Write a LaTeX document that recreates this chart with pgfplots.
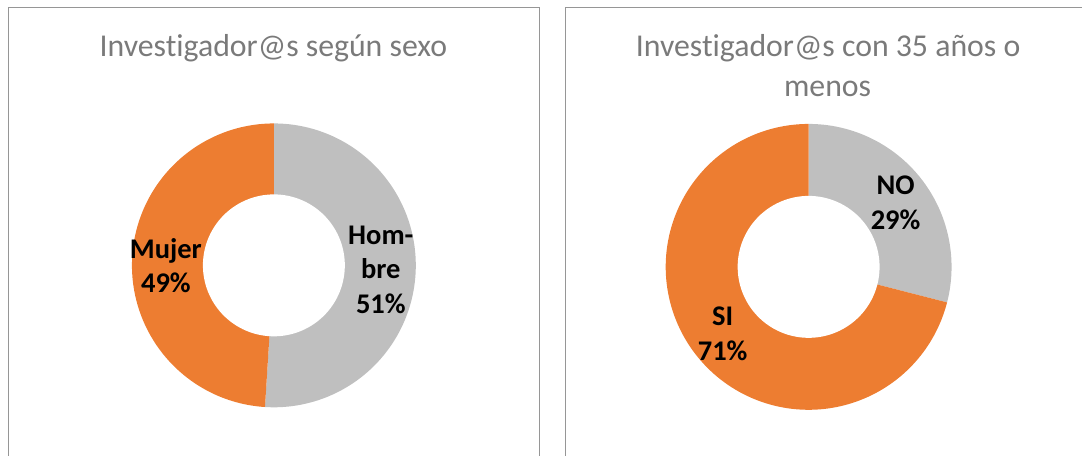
\documentclass[border=0pt]{standalone}
\usepackage{pgfplots}
\pgfplotsset{compat=1.18}
\usepackage{pgfplotstable}
\usepackage{fontspec}
\setmainfont{Carlito}[Ligatures={NoCommon}]
\definecolor{corange}{HTML}{ED7D31}
\definecolor{cgray}{HTML}{BFBFBF}
\definecolor{ctitle}{HTML}{7A7A7A}
\definecolor{cborder}{HTML}{969696}

\pgfplotstableread{
label value
Hombre 51
Mujer 49
}\sexo
\pgfplotstableread{
label value
NO 29
SI 71
}\edad
\pgfplotstablegetelem{0}{value}\of\sexo \let\vHombre\pgfplotsretval
\pgfplotstablegetelem{0}{value}\of\edad \let\vNO\pgfplotsretval

\begin{document}
\begin{tikzpicture}
\begin{axis}[
  width=1082pt, height=456pt, scale only axis,
  xmin=0, xmax=1082, ymin=0, ymax=456,
  hide axis, clip=false,
]
% page extent
\path (axis cs:0,0) rectangle (axis cs:1082,456);
% chart frames
\draw[cborder, line width=1pt] (axis cs:9,0) -- (axis cs:9,448) -- (axis cs:540,448) -- (axis cs:540,0);
\draw[cborder, line width=1pt] (axis cs:566,0) -- (axis cs:566,448) -- (axis cs:1082,448);

% titles
\node[anchor=base, text=ctitle, font=\fontsize{31.8}{40}\selectfont] at (axis cs:273.5,399) {Investigador@s según sexo};
\node[anchor=base, text=ctitle, font=\fontsize{31.8}{40}\selectfont] at (axis cs:828.5,399) {Investigador@s con 35 años o};
\node[anchor=base, text=ctitle, font=\fontsize{31.8}{40}\selectfont] at (axis cs:828,359) {menos};

% left donut: Hombre (gray) from top clockwise, Mujer (orange) rest
\addplot[fill=cgray, draw=none, domain=0:{3.6*\vHombre}, samples=120, variable=\t]
  ({274+142*sin(t)},{190.5+142*cos(t)}) -- (axis cs:274,190.5) -- cycle;
\addplot[fill=corange, draw=none, domain={3.6*\vHombre}:360, samples=120, variable=\t]
  ({274+142*sin(t)},{190.5+142*cos(t)}) -- (axis cs:274,190.5) -- cycle;
\addplot[fill=white, draw=none, domain=0:360, samples=120, variable=\t]
  ({274+71*sin(t)},{190.5+71*cos(t)}) -- cycle;

% right donut: NO (gray), SI (orange)
\addplot[fill=cgray, draw=none, domain=0:{3.6*\vNO}, samples=120, variable=\t]
  ({809+143*sin(t)},{189+143*cos(t)}) -- (axis cs:809,189) -- cycle;
\addplot[fill=corange, draw=none, domain={3.6*\vNO}:360, samples=160, variable=\t]
  ({809+143*sin(t)},{189+143*cos(t)}) -- (axis cs:809,189) -- cycle;
\addplot[fill=white, draw=none, domain=0:360, samples=120, variable=\t]
  ({809+71*sin(t)},{189+71*cos(t)}) -- cycle;

% data labels
\tikzset{dl/.style={align=center, font=\bfseries\fontsize{28.5}{34.5}\selectfont, text=black}}
\node[dl] at (axis cs:166,190) {Mujer\\49\%};
\node[dl] at (axis cs:381,186) {Hom-\\bre\\51\%};
\node[dl] at (axis cs:896,253) {NO\\29\%};
\node[dl] at (axis cs:723,122) {SI\\71\%};
\end{axis}
\end{tikzpicture}
\end{document}
